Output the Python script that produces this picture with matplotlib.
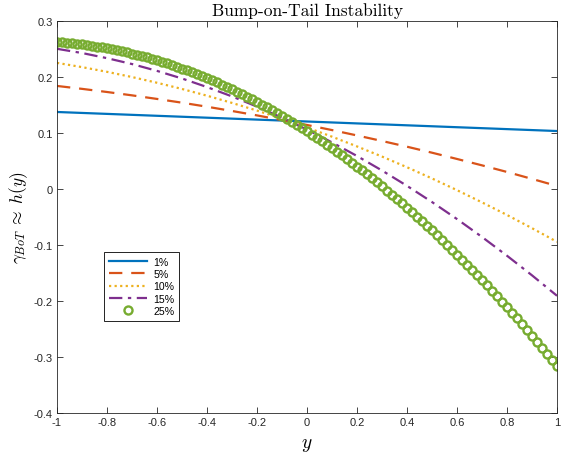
import matplotlib
matplotlib.use('Agg')
import matplotlib.pyplot as plt
import numpy as np

# Bump-on-tail growth rate curves

plt.rcParams['mathtext.fontset'] = 'cm'
plt.rcParams['font.family'] = ['Liberation Sans', 'DejaVu Sans']

y_line = [-1.0, -0.9, -0.8, -0.7, -0.6, -0.5, -0.4, -0.3, -0.2, -0.1, 0.0,
          0.1, 0.2, 0.3, 0.4, 0.5, 0.6, 0.7, 0.8, 0.9, 1.0]

h_1 = [0.1375, 0.1358, 0.1341, 0.1324, 0.1307, 0.1290, 0.1273, 0.1256, 0.1239, 0.1222, 0.1205,
       0.1188, 0.1171, 0.1154, 0.1137, 0.1120, 0.1103, 0.1086, 0.1069, 0.1052, 0.1035]
h_5 = [0.1840, 0.1788, 0.1732, 0.1672, 0.1608, 0.1541, 0.1469, 0.1393, 0.1314, 0.1230, 0.1143,
       0.1052, 0.0956, 0.0857, 0.0755, 0.0648, 0.0536, 0.0422, 0.0304, 0.0180, 0.0054]
h_10 = [0.2252, 0.2176, 0.2092, 0.1999, 0.1897, 0.1786, 0.1666, 0.1537, 0.1400, 0.1254, 0.1098,
        0.0934, 0.0760, 0.0579, 0.0388, 0.0188, -0.0021, -0.0239, -0.0464, -0.0700, -0.0944]
h_15 = [0.2503, 0.2428, 0.2336, 0.2231, 0.2109, 0.1973, 0.1820, 0.1653, 0.1471, 0.1273, 0.1060,
        0.0832, 0.0589, 0.0330, 0.0056, -0.0233, -0.0537, -0.0857, -0.1192, -0.1542, -0.1907]

# 25% curve sampled every 0.02 from -1 to 1
y_dense = [round(-1 + 0.02 * k, 2) for k in range(101)]
h_25 = [0.2625, 0.2619, 0.2611, 0.2602, 0.2593, 0.2582, 0.2570, 0.2558, 0.2544, 0.2529,
        0.2513, 0.2496, 0.2478, 0.2460, 0.2440, 0.2418, 0.2396, 0.2373, 0.2349, 0.2324,
        0.2298, 0.2271, 0.2242, 0.2213, 0.2183, 0.2151, 0.2119, 0.2085, 0.2051, 0.2015,
        0.1979, 0.1941, 0.1903, 0.1863, 0.1822, 0.1780, 0.1738, 0.1694, 0.1649, 0.1603,
        0.1556, 0.1508, 0.1459, 0.1409, 0.1358, 0.1306, 0.1253, 0.1199, 0.1144, 0.1087,
        0.1030,
        0.0972, 0.0912, 0.0852, 0.0791, 0.0728, 0.0665, 0.0600, 0.0534, 0.0468, 0.0400,
        0.0332, 0.0262, 0.0191, 0.0119, 0.0046, -0.0027, -0.0102, -0.0178, -0.0255, -0.0333,
        -0.0412, -0.0492, -0.0573, -0.0656, -0.0739, -0.0823, -0.0908, -0.0995, -0.1082, -0.1170,
        -0.1260, -0.1350, -0.1442, -0.1534, -0.1628, -0.1722, -0.1818, -0.1914, -0.2012, -0.2111,
        -0.2211, -0.2311, -0.2413, -0.2516, -0.2620, -0.2725, -0.2831, -0.2938, -0.3046, -0.3155]

fig = plt.figure(figsize=(5.61, 4.56), dpi=100)
ax = fig.add_axes([0.1016, 0.0921, 0.8913, 0.8597])

ax.plot(y_line, h_1, color='#0072BD', lw=1.6, label='1%')
ax.plot(y_line, h_5, color='#D95319', lw=1.6, ls=(0, (6, 4)), label='5%')
ax.plot(y_line, h_10, color='#EDB120', lw=1.6, ls=(0, (1, 1.5)), label='10%')
ax.plot(y_line, h_15, color='#7E2F8E', lw=1.6, ls=(0, (6, 2.5, 1.5, 2.5)), label='15%')
ax.plot(y_dense, h_25, ls='none', marker='o', ms=5.8, mfc='none', mec='#77AC30',
        mew=1.7, label='25%')

ax.set_xlim(-1, 1)
ax.set_ylim(-0.4, 0.3)
ax.set_xticks(np.arange(-1, 1.01, 0.2))
ax.set_yticks(np.arange(-0.4, 0.31, 0.1))
ax.set_xticklabels(['-1', '-0.8', '-0.6', '-0.4', '-0.2', '0', '0.2', '0.4', '0.6', '0.8', '1'])
ax.set_yticklabels(['-0.4', '-0.3', '-0.2', '-0.1', '0', '0.1', '0.2', '0.3'])
ax.tick_params(direction='in', top=True, right=True, length=4, width=0.6,
               labelsize=8, colors='#262626', pad=3)
for s in ax.spines.values():
    s.set_linewidth(0.6)
    s.set_color('#262626')

ax.set_title('Bump-on-Tail Instability', fontfamily='cmr10', fontsize=12.5, pad=4)
ax.set_xlabel(r'$y$', fontsize=14, labelpad=6)
ax.set_ylabel(r'$\gamma_{BoT}\;\approx\;h(y)$', fontsize=12.5, labelpad=3)

leg = ax.legend(loc='lower left', bbox_to_anchor=(0.094, 0.235), fontsize=7.6,
                fancybox=False, framealpha=1, edgecolor='black', handlelength=3.6,
                borderpad=0.45, labelspacing=0.22, handletextpad=0.6, borderaxespad=0)
leg.get_frame().set_linewidth(0.6)

fig.savefig('out.png', dpi=100)
print('Saving out.png')
